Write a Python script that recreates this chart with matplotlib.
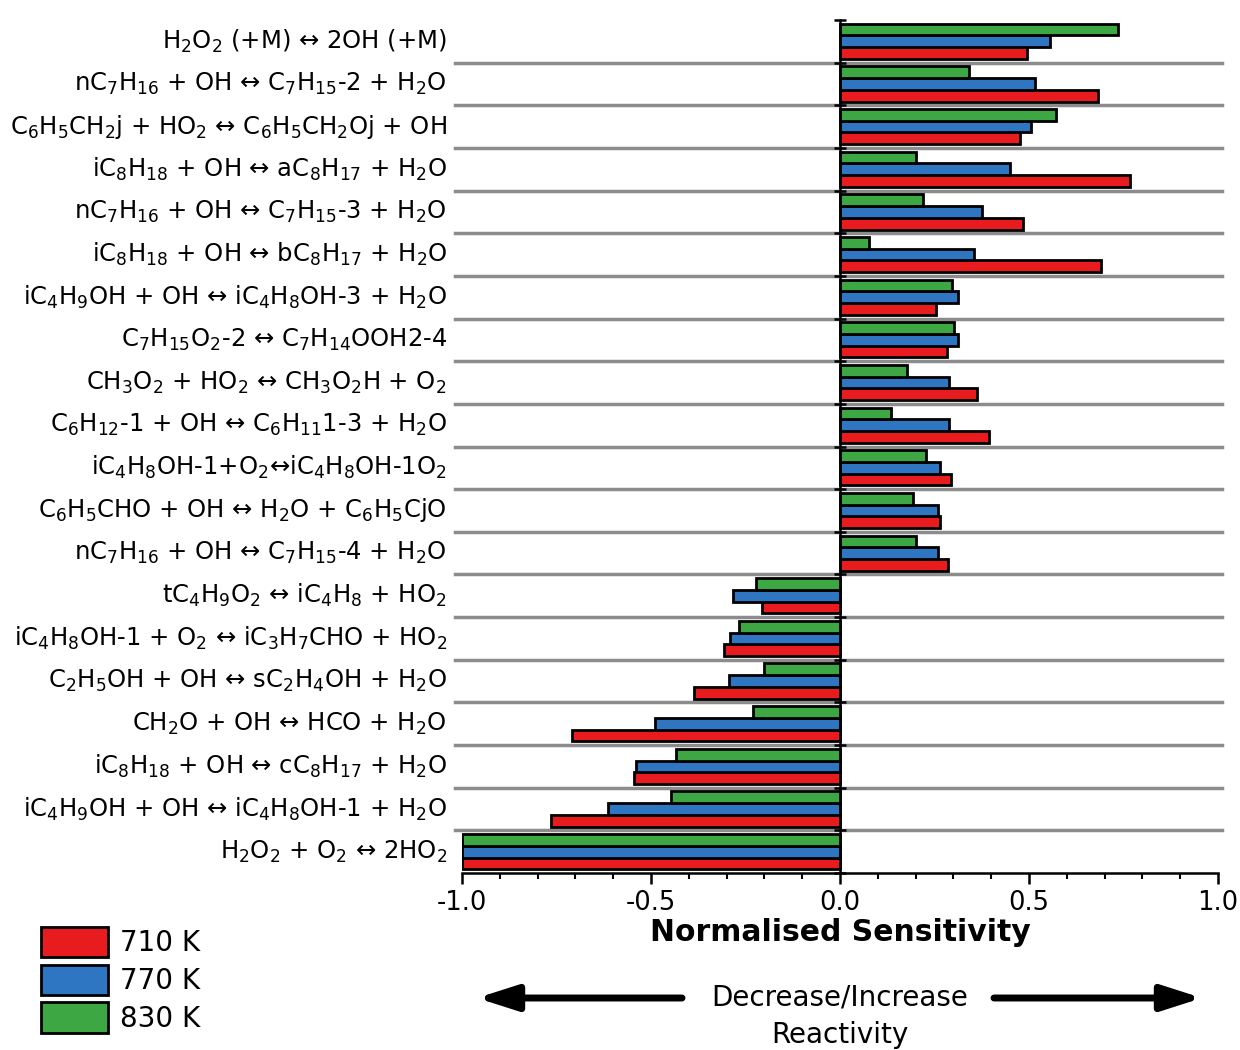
import matplotlib
matplotlib.use("Agg")
import matplotlib.pyplot as plt
import numpy as np

plt.rcParams['font.family'] = ['DejaVu Sans']
plt.rcParams['axes.unicode_minus'] = False
plt.rcParams['mathtext.fontset'] = 'dejavusans'

reacoes = [
    'H$_2$O$_2$ (+M) ↔ 2OH (+M)',
    'nC$_7$H$_{16}$ + OH ↔ C$_7$H$_{15}$-2 + H$_2$O',
    'C$_6$H$_5$CH$_2$j + HO$_2$ ↔ C$_6$H$_5$CH$_2$Oj + OH',
    'iC$_8$H$_{18}$ + OH ↔ aC$_8$H$_{17}$ + H$_2$O',
    'nC$_7$H$_{16}$ + OH ↔ C$_7$H$_{15}$-3 + H$_2$O',
    'iC$_8$H$_{18}$ + OH ↔ bC$_8$H$_{17}$ + H$_2$O',
    'iC$_4$H$_9$OH + OH ↔ iC$_4$H$_8$OH-3 + H$_2$O',
    'C$_7$H$_{15}$O$_2$-2 ↔ C$_7$H$_{14}$OOH2-4',
    'CH$_3$O$_2$ + HO$_2$ ↔ CH$_3$O$_2$H + O$_2$',
    'C$_6$H$_{12}$-1 + OH ↔ C$_6$H$_{11}$1-3 + H$_2$O',
    'iC$_4$H$_8$OH-1+O$_2$↔iC$_4$H$_8$OH-1O$_2$',
    'C$_6$H$_5$CHO + OH ↔ H$_2$O + C$_6$H$_5$CjO',
    'nC$_7$H$_{16}$ + OH ↔ C$_7$H$_{15}$-4 + H$_2$O',
    'tC$_4$H$_9$O$_2$ ↔ iC$_4$H$_8$ + HO$_2$',
    'iC$_4$H$_8$OH-1 + O$_2$ ↔ iC$_3$H$_7$CHO + HO$_2$',
    'C$_2$H$_5$OH + OH ↔ sC$_2$H$_4$OH + H$_2$O',
    'CH$_2$O + OH ↔ HCO + H$_2$O',
    'iC$_8$H$_{18}$ + OH ↔ cC$_8$H$_{17}$ + H$_2$O',
    'iC$_4$H$_9$OH + OH ↔ iC$_4$H$_8$OH-1 + H$_2$O',
    'H$_2$O$_2$ + O$_2$ ↔ 2HO$_2$',
]

s710 = [0.495, 0.683, 0.475, 0.767, 0.483, 0.690, 0.255, 0.282, 0.363, 0.393,
        0.293, 0.265, 0.285, -0.207, -0.307, -0.386, -0.709, -0.544, -0.765, -1.0]
s770 = [0.556, 0.516, 0.506, 0.450, 0.375, 0.354, 0.313, 0.311, 0.289, 0.289,
        0.265, 0.258, 0.258, -0.282, -0.291, -0.293, -0.489, -0.541, -0.613, -1.0]
s830 = [0.736, 0.340, 0.571, 0.200, 0.220, 0.076, 0.297, 0.302, 0.176, 0.135,
        0.228, 0.193, 0.200, -0.222, -0.266, -0.201, -0.231, -0.435, -0.446, -1.0]

temperaturas = ['710 K', '770 K', '830 K']
cores = ['#E81C1E', '#2E76C2', '#3DA843']

fig = plt.figure(figsize=(12.4, 10.5), dpi=100)
ax = fig.add_axes([462/1240, 1 - 873/1050, 756/1240, 853/1050])

y = np.arange(len(reacoes))
h = 0.275
barras = []
for serie, desloc, cor, lab in [(s710, h, cores[0], temperaturas[0]),
                                 (s770, 0, cores[1], temperaturas[1]),
                                 (s830, -h, cores[2], temperaturas[2])]:
    b = ax.barh(y + desloc, serie, h, color=cor, edgecolor='black',
                linewidth=2, label=lab, zorder=3)
    barras.append(b)

# linhas separadoras entre grupos
for yy in y[:-1] + 0.5:
    ax.axhline(yy, xmin=-0.009, xmax=1.005, color='#8c8c8c', lw=2.5,
               clip_on=False, zorder=1)

ax.set_xlim(-1, 1)
ax.set_ylim(len(reacoes) - 0.5, -0.5)

ax.spines['top'].set_visible(False)
ax.spines['right'].set_visible(False)
ax.spines['left'].set_position(('data', 0))
ax.spines['left'].set_linewidth(1.8)
ax.spines['bottom'].set_linewidth(1.8)
ax.spines['left'].set_zorder(4)

ax.set_yticks(np.arange(-0.5, len(reacoes), 1.0))
ax.set_yticklabels([])
ax.tick_params(axis='y', direction='inout', length=8, width=1.8)

ax.set_xticks([-1, -0.5, 0, 0.5, 1])
ax.set_xticklabels(['-1.0', '-0.5', '0.0', '0.5', '1.0'])
ax.set_xticks(np.arange(-1, 1.01, 0.1), minor=True)
ax.tick_params(axis='x', which='major', length=8, width=1.8, labelsize=18.5, pad=4)
ax.tick_params(axis='x', which='minor', length=4, width=1.5)

for yi, txt in zip(y, reacoes):
    ax.text(-0.02, yi, txt, transform=ax.get_yaxis_transform(),
            ha='right', va='center', fontsize=17.5)

ax.set_xlabel('Normalised Sensitivity', fontsize=21.5, fontweight='bold', labelpad=2)

fig.legend(handles=barras, labels=temperaturas, loc='upper left',
           bbox_to_anchor=(41/1240, 1 - 927/1050), frameon=False,
           fontsize=20, handlelength=2.4, handleheight=1.3,
           labelspacing=0.26, handletextpad=0.45, borderpad=0, borderaxespad=0)

yseta = 1 - 998/1050
estilo = dict(arrowstyle='-|>,head_length=1.0,head_width=0.32', lw=5,
              color='black', mutation_scale=24, shrinkA=0, shrinkB=0)
fig.add_artist(matplotlib.patches.FancyArrowPatch(
    (682/1240, yseta), (477/1240, yseta), transform=fig.transFigure, **estilo))
fig.add_artist(matplotlib.patches.FancyArrowPatch(
    (994/1240, yseta), (1202/1240, yseta), transform=fig.transFigure, **estilo))
fig.text(840/1240, yseta, 'Decrease/Increase', ha='center', va='center', fontsize=20)
fig.text(840/1240, 1 - 1035/1050, 'Reactivity', ha='center', va='center', fontsize=20)

plt.savefig('out.png', dpi=100)
plt.close()
